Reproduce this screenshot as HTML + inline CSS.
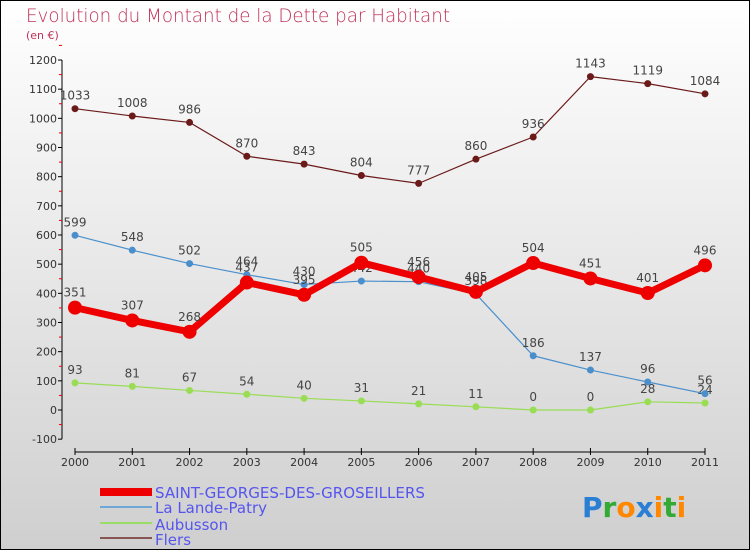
<!DOCTYPE html>
<html><head><meta charset="utf-8"><style>
body{margin:0}
svg{display:block;font-family:"DejaVu Sans","Liberation Sans",sans-serif}
</style></head><body>
<svg width="750" height="550">
<defs><linearGradient id="bg" x1="0" y1="0" x2="0" y2="1"><stop offset="0" stop-color="#ffffff"/><stop offset="1" stop-color="#cfcfcf"/></linearGradient></defs>
<rect x="0.5" y="0.5" width="749" height="549" fill="url(#bg)" stroke="#000"/>
<text x="26" y="22" font-size="19" fill="#c0305a" font-weight="200" textLength="424" lengthAdjust="spacingAndGlyphs">Evolution du Montant de la Dette par Habitant</text>
<text x="26" y="39" font-size="11" fill="#c0305a">(en €)</text>
<g id="axes"></g><g id="series"></g>
<g font-size="15" fill="#5555ee">
<rect x="100" y="488" width="52" height="8" fill="#ee0000"/>
<text x="155" y="498" textLength="270" lengthAdjust="spacingAndGlyphs">SAINT-GEORGES-DES-GROSEILLERS</text>
<rect x="100" y="506" width="52" height="2" fill="#6fa8d6"/>
<text x="155" y="513">La Lande-Patry</text>
<rect x="100" y="522" width="52" height="2" fill="#99dd66"/>
<text x="155" y="530">Aubusson</text>
<rect x="100" y="537" width="52" height="2" fill="#885555"/>
<text x="155" y="545">Flers</text>
</g>
<g font-size="28" font-weight="bold" font-family="'DejaVu Sans',sans-serif">
<text x="582" y="517"><tspan fill="#2a7fd4">P</tspan><tspan fill="#33aa33">r</tspan><tspan fill="#ff8800">o</tspan><tspan fill="#2a7fd4">x</tspan><tspan fill="#ff8800">i</tspan><tspan fill="#33aa33">t</tspan><tspan fill="#ff8800">i</tspan></text>
</g>
</svg>
<script>
const years=[2000,2001,2002,2003,2004,2005,2006,2007,2008,2009,2010,2011];
const yTicks=[-100,0,100,200,300,400,500,600,700,800,900,1000,1100,1200];
const saintGeorges=[351,307,268,437,395,505,456,405,504,451,401,496];
const laLande=[599,548,502,464,430,442,440,398,186,137,96,56];
const aubusson=[93,81,67,54,40,31,21,11,0,0,28,24];
const flers=[1033,1008,986,870,843,804,777,860,936,1143,1119,1084];
const NS="http://www.w3.org/2000/svg";
const x=i=>75+i*(705-75)/11;
const y=v=>410-v*(410-60)/1200;
function mk(t,a,p){const e=document.createElementNS(NS,t);for(const k in a)e.setAttribute(k,a[k]);p.appendChild(e);return e;}
const ax=document.getElementById('axes');
let l=mk('line',{x1:62,y1:y(1200),x2:62,y2:y(-100),stroke:'#000'},ax);


yTicks.forEach(v=>{
 mk('line',{x1:58,x2:62,y1:y(v),y2:y(v),stroke:'#000'},ax);
 mk('line',{x1:59,x2:62,y1:y(v+50),y2:y(v+50),stroke:'#e00'},ax);
 const t=mk('text',{x:57,y:y(v)+4,'text-anchor':'end','font-size':11,fill:'#333'},ax);
 t.textContent=v;
 
 
});
l=mk('line',{x1:75,y1:452,x2:705,y2:452,stroke:'#000'},ax);


years.forEach((yr,i)=>{
 mk('line',{x1:x(i),x2:x(i),y1:448,y2:455,stroke:'#000'},ax);
 const t=mk('text',{x:x(i),y:466,'text-anchor':'middle','font-size':11,fill:'#333'},ax);
 t.textContent=yr;
 
 
});
const sg=document.getElementById('series');
function series(data,color,w,r,name,dy){
 const g=mk('g',{},sg);
 
 
 mk('polyline',{points:data.map((v,i)=>x(i)+','+y(v)).join(' '),fill:'none',stroke:color,'stroke-width':w,'stroke-linejoin':'round'},g);
 data.forEach((v,i)=>{
  const c=mk('circle',{cx:x(i),cy:y(v),r:r,fill:color},g);
  
  
  const t=mk('text',{x:x(i),y:y(v)+dy,'text-anchor':'middle','font-size':12,fill:'#444'},g);
  t.textContent=v;
  
  
 });
}
series(flers,'#6b1a1a',1.2,3.5,'flers-line',-9);
series(aubusson,'#99dd55',1.2,3.5,'aubusson-line',-9);
series(laLande,'#4a8fcc',1.2,3.5,'la-lande-patry-line',-9);
series(saintGeorges,'#ee0000',7,7,'saint-georges-line',-11);
</script>
</body></html>
